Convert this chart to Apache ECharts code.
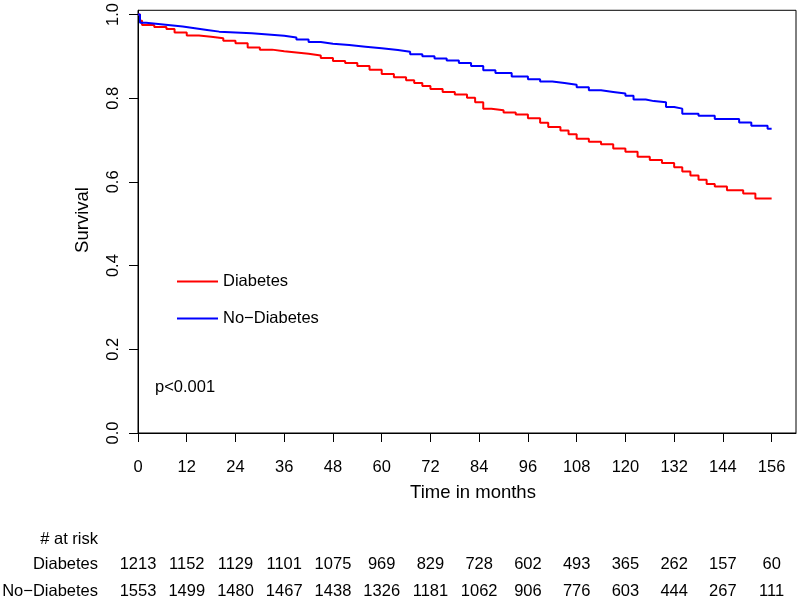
<!DOCTYPE html>
<html>
<head>
<meta charset="utf-8">
<script src="https://cdn.jsdelivr.net/npm/echarts@6/dist/echarts.min.js"></script>
<style>
html,body{margin:0;padding:0;background:#fff;}
#chart{width:797px;height:602px;}
</style>
</head>
<body>
<div id="chart"></div>
<script>
// ---- data ----
const diabTime = [0,0.5,1,4,7,9,12,15,18,21,24,27,30,33,36,39,42,45,48,51,54,57,60,63,66,68,70,72,75,78,81,83,85,87,90,93,96,99,101,104,106,108,111,114,117,120,123,126,129,132,134,136,138,140,142,145,149,152,156];
const diabSurv = [1.0,0.985,0.975,0.970,0.965,0.957,0.950,0.947,0.943,0.937,0.931,0.921,0.916,0.912,0.909,0.906,0.902,0.896,0.889,0.884,0.877,0.868,0.858,0.850,0.843,0.836,0.829,0.822,0.815,0.809,0.801,0.790,0.775,0.771,0.766,0.761,0.752,0.741,0.731,0.723,0.714,0.703,0.696,0.690,0.680,0.672,0.660,0.652,0.645,0.635,0.625,0.615,0.605,0.595,0.589,0.580,0.572,0.560,0.560];
const noDiabTime = [0,0.5,2,5,8,11,14,17,20,24,28,32,36,39,42,45,48,52,56,60,64,67,70,73,76,79,82,85,88,92,96,99,102,105,108,111,114,117,120,122,125,127,130,132,134,138,142,148,151,155,156];
const noDiabSurv = [1.0,0.980,0.977,0.974,0.971,0.967,0.963,0.959,0.957,0.955,0.952,0.949,0.945,0.940,0.934,0.930,0.927,0.923,0.919,0.915,0.911,0.905,0.900,0.895,0.890,0.884,0.877,0.867,0.860,0.852,0.845,0.840,0.836,0.832,0.826,0.819,0.815,0.811,0.806,0.797,0.793,0.790,0.779,0.775,0.763,0.758,0.750,0.742,0.734,0.727,0.727];
const tickMonths = [0,12,24,36,48,60,72,84,96,108,120,132,144,156];
const yTicks = [0,0.2,0.4,0.6,0.8,1.0];
const riskDiab = [1213,1152,1129,1101,1075,969,829,728,602,493,365,262,157,60];
const riskNoDiab = [1553,1499,1480,1467,1438,1326,1181,1062,906,776,603,444,267,111];
const seriesNames = ['Diabetes','No\u2212Diabetes'];

const FONT = 'Liberation Sans, Arial, sans-serif';
const chart = echarts.init(document.getElementById('chart'), null, {renderer:'canvas'});

const pairs = (t, s) => t.map((v, i) => [v, s[i]]);

chart.setOption({
  animation: false,
  backgroundColor: '#fff',
  grid: {left:138, top:7, width:658, height:426, show:true, borderColor:'#000', borderWidth:1, backgroundColor:'transparent'},
  xAxis: {
    type:'value', min:0, max:162,
    axisLine:{show:true, lineStyle:{color:'#000', width:1}},
    axisTick:{show:true, length:9, inside:false, customValues:tickMonths, lineStyle:{color:'#000'}},
    axisLabel:{customValues:tickMonths, margin:26, color:'#000', fontFamily:FONT, fontSize:16.5},
    splitLine:{show:false}
  },
  yAxis: {
    type:'value', min:0, max:1.01,
    axisLine:{show:true, lineStyle:{color:'#000', width:1}},
    axisTick:{show:true, length:9, inside:false, customValues:yTicks, lineStyle:{color:'#000'}},
    axisLabel:{customValues:yTicks, rotate:90, margin:16, color:'#000', fontFamily:FONT, fontSize:16.5,
      formatter:v => v.toFixed(1)},
    splitLine:{show:false}
  },
  legend: {
    orient:'vertical', left:172, top:268, itemWidth:41, itemHeight:14, itemGap:20,
    icon:'path://M0,0 L41,0 L41,2 L0,2 Z',
    textStyle:{color:'#000', fontFamily:FONT, fontSize:16.5},
    data:seriesNames
  },
  series: [
    {name:seriesNames[0], type:'line', step:'end', symbol:'none', data:pairs(diabTime, diabSurv),
     lineStyle:{color:'#FF0000', width:2}, itemStyle:{color:'#FF0000'}},
    {name:seriesNames[1], type:'line', step:'end', symbol:'none', data:pairs(noDiabTime, noDiabSurv),
     lineStyle:{color:'#0000FF', width:2}, itemStyle:{color:'#0000FF'}}
  ]
});

// text elements positioned via the axis scale
const gx = t => chart.convertToPixel({xAxisIndex:0}, t);
const els = [];
const txt = (x, y, s, align, size) => ({type:'text', x:x, y:y, silent:true,
  style:{text:s, fill:'#000', font:(size||16.5)+'px '+FONT, align:align||'center', verticalAlign:'middle'}});

els.push(txt((gx(0)+gx(162))/2 + 6, 493, 'Time in months', 'center', 18.5));
els.push({type:'text', x:83, y:220, rotation:Math.PI/2, silent:true,
  style:{text:'Survival', fill:'#000', font:'18.5px '+FONT, align:'center', verticalAlign:'middle'}});
els.push(txt(155, 387, 'p<0.001', 'left'));
els.push(txt(98, 539, '# at risk', 'right'));
els.push(txt(98, 564, seriesNames[0], 'right'));
els.push(txt(98, 591, seriesNames[1], 'right'));
tickMonths.forEach((m, i) => {
  els.push(txt(gx(m), 564, String(riskDiab[i])));
  els.push(txt(gx(m), 591, String(riskNoDiab[i])));
});
chart.setOption({graphic:{elements:els}});
</script>
</body>
</html>
